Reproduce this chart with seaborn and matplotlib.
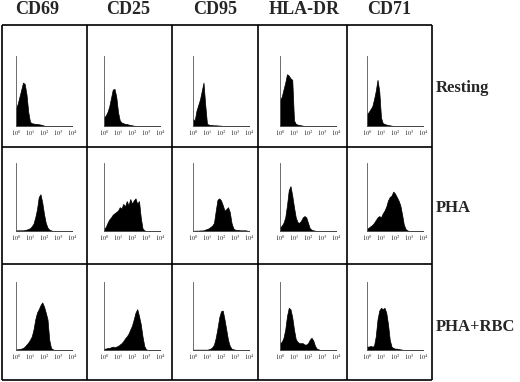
import numpy as np
import pandas as pd
import matplotlib
matplotlib.use("Agg")
import matplotlib.pyplot as plt
import seaborn as sns

# ---------------- data ----------------
markers = ["CD69", "CD25", "CD95", "HLA-DR", "CD71"]
conditions = ["Resting", "PHA", "PHA+RBC"]
tick_labels = ["$10^0$", "$10^1$", "$10^2$", "$10^3$", "$10^4$"]

# relative cell counts sampled every 1/8 decade starting at 10^0
rest_cd69 = [0.25, 0.32, 0.42, 0.52, 0.62, 0.60, 0.45, 0.20, 0.06, 0.04, 0.035, 0.03, 0.03, 0.025, 0.02, 0.015, 0.005]
rest_cd25 = [0.12, 0.15, 0.20, 0.28, 0.40, 0.52, 0.53, 0.42, 0.20, 0.08, 0.05, 0.04, 0.03, 0.03, 0.02, 0.015, 0.01, 0.005]
rest_cd95 = [0.10, 0.08, 0.22, 0.30, 0.38, 0.50, 0.62, 0.30, 0.03, 0.02, 0.015, 0.012, 0.01, 0.01, 0.008, 0.006, 0.005]
rest_hla = [0.37, 0.42, 0.52, 0.62, 0.74, 0.72, 0.68, 0.66, 0.08, 0.03, 0.02, 0.015, 0.01, 0.005]
rest_cd71 = [0.17, 0.20, 0.24, 0.28, 0.38, 0.50, 0.66, 0.50, 0.12, 0.04, 0.03, 0.02, 0.015, 0.01, 0.005]

pha_cd69 = [0.01, 0.01, 0.01, 0.01, 0.01, 0.015, 0.02, 0.03, 0.04, 0.07, 0.11, 0.20, 0.32, 0.50, 0.54, 0.42, 0.25, 0.12, 0.05, 0.02, 0.01]
pha_cd25 = [0.03, 0.06, 0.12, 0.17, 0.20, 0.24, 0.26, 0.28, 0.30, 0.35, 0.33, 0.40, 0.36, 0.44, 0.38, 0.47, 0.40, 0.45, 0.48, 0.40, 0.44, 0.20, 0.04, 0.01]
pha_cd95 = [0.0, 0.005, 0.005, 0.005, 0.008, 0.008, 0.01, 0.02, 0.03, 0.04, 0.06, 0.08, 0.12, 0.30, 0.46, 0.48, 0.45, 0.38, 0.30, 0.32, 0.35, 0.28, 0.12, 0.04, 0.02, 0.015, 0.015, 0.01, 0.01, 0.01, 0.01, 0.005]
pha_hla = [0.05, 0.08, 0.12, 0.20, 0.38, 0.60, 0.66, 0.52, 0.35, 0.20, 0.13, 0.12, 0.15, 0.20, 0.22, 0.20, 0.12, 0.04, 0.02, 0.01, 0.005]
pha_cd71 = [0.03, 0.05, 0.07, 0.09, 0.12, 0.16, 0.20, 0.22, 0.20, 0.26, 0.30, 0.36, 0.45, 0.50, 0.52, 0.58, 0.55, 0.50, 0.45, 0.38, 0.25, 0.10, 0.03, 0.01]

rbc_cd69 = [0.01, 0.01, 0.015, 0.02, 0.03, 0.05, 0.08, 0.11, 0.15, 0.20, 0.30, 0.45, 0.55, 0.60, 0.66, 0.70, 0.64, 0.55, 0.45, 0.15, 0.03, 0.01]
rbc_cd25 = [0.02, 0.02, 0.03, 0.03, 0.04, 0.05, 0.04, 0.05, 0.06, 0.08, 0.10, 0.13, 0.17, 0.20, 0.24, 0.30, 0.36, 0.45, 0.55, 0.60, 0.50, 0.38, 0.20, 0.06, 0.01]
rbc_cd95 = [0.005, 0.005, 0.005, 0.005, 0.005, 0.005, 0.005, 0.005, 0.005, 0.01, 0.02, 0.04, 0.08, 0.18, 0.32, 0.48, 0.57, 0.58, 0.45, 0.30, 0.15, 0.06, 0.02, 0.01, 0.005]
rbc_hla = [0.10, 0.12, 0.18, 0.30, 0.50, 0.62, 0.60, 0.48, 0.30, 0.16, 0.12, 0.10, 0.10, 0.10, 0.08, 0.08, 0.10, 0.15, 0.18, 0.14, 0.06, 0.02, 0.01]
rbc_cd71 = [0.05, 0.05, 0.06, 0.05, 0.06, 0.20, 0.45, 0.58, 0.62, 0.60, 0.62, 0.55, 0.38, 0.15, 0.05, 0.03, 0.02, 0.02, 0.015, 0.01, 0.005]

panels = [
    [rest_cd69, rest_cd25, rest_cd95, rest_hla, rest_cd71],
    [pha_cd69, pha_cd25, pha_cd95, pha_hla, pha_cd71],
    [rbc_cd69, rbc_cd25, rbc_cd95, rbc_hla, rbc_cd71],
]

# ---------------- layout (pixels) ----------------
W, H = 520, 382
col_axis_x = [16, 104, 193, 280, 367]
row_top_base = [(56, 126), (163, 231), (282, 350)]
axis_w = 56
grid_x = [2, 87, 172, 258, 347, 432]
grid_y = [25, 147, 264, 380]
header_x = [15, 106, 193, 269, 367]
row_label_y = [88, 208, 327]

sns.set_style("white")
serif = ["Liberation Serif", "DejaVu Serif"]
plt.rcParams["font.family"] = serif
plt.rcParams["mathtext.fontset"] = "stix"

fig = plt.figure(figsize=(W / 100, H / 100), dpi=100)

# grid frame
gax = fig.add_axes([0, 0, 1, 1])
gax.set_xlim(0, W)
gax.set_ylim(H, 0)
gax.axis("off")
gax.vlines(grid_x, grid_y[0], grid_y[-1], color="black", lw=1.2)
gax.hlines(grid_y, grid_x[0], grid_x[-1], color="black", lw=1.2)

for c, m in enumerate(markers):
    gax.text(header_x[c], 9.5, m, fontsize=13, fontweight="bold",
             ha="left", va="center", family=serif)
for r, cond in enumerate(conditions):
    gax.text(436, row_label_y[r], cond, fontsize=12, fontweight="bold",
             ha="left", va="center", family=serif)

n_bins = 33
centers = np.arange(n_bins) * 0.125

for r in range(3):
    top, base = row_top_base[r]
    for c in range(5):
        vals = list(panels[r][c]) + [0.0] * (n_bins - len(panels[r][c]))
        df = pd.DataFrame({"logfl": centers, "count": vals})
        ax = fig.add_axes([col_axis_x[c] / W, 1 - base / H, axis_w / W, (base - top) / H])
        sns.histplot(data=df, x="logfl", weights="count",
                     binwidth=0.125, binrange=(-0.0625, 4.0625),
                     element="poly", fill=True, color="black", alpha=1,
                     linewidth=0.5, ax=ax)
        ax.set_xlim(0, 4)
        ax.set_ylim(0, 1)
        ax.set_xlabel("")
        ax.set_ylabel("")
        ax.set_facecolor("none")
        for s in ["top", "right"]:
            ax.spines[s].set_visible(False)
        for s in ["left", "bottom"]:
            ax.spines[s].set_color("#555555")
            ax.spines[s].set_linewidth(0.6)
        ax.set_xticks(range(5))
        ax.set_xticklabels(tick_labels, fontsize=4.5)
        ax.tick_params(axis="x", length=0, pad=1.5, colors="#222222")
        ax.set_yticks([0.25, 0.5, 0.75, 1.0])
        ax.set_yticklabels([])
        ax.tick_params(axis="y", length=1.5, width=0.4, colors="#777777", direction="in")

fig.savefig("out.png", dpi=100)
